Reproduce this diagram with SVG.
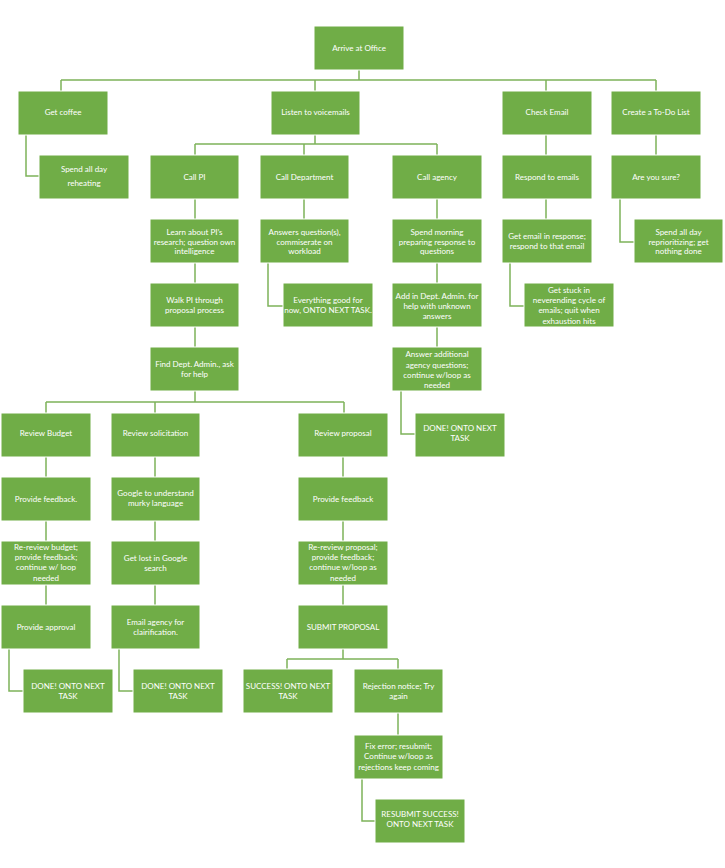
<svg xmlns="http://www.w3.org/2000/svg" width="725" height="868" viewBox="0 0 725 868">
<style>
.n rect{fill:#70AD47;stroke:#ffffff;stroke-width:1}
.n text{fill:#ffffff;font-family:Lato,"Liberation Sans",sans-serif;font-size:8px;text-anchor:middle}
.c path{fill:none;stroke:#7DB35A;stroke-width:1.5}
</style>
<rect width="725" height="868" fill="#ffffff"/>
<g class="c">
<path d="M359,70V80M61,80H656M61,80V91M315,80V91M546,80V91M656,80V91"/>
<path d="M26,134V176H39"/>
<path d="M315,134V144M195,144H437M195,144V155M304,144V155M437,144V155"/>
<path d="M546,134V155M656,134V155"/>
<path d="M620,199V242H634"/>
<path d="M195,199V219M304,199V219M437,199V219M546,199V219"/>
<path d="M268,263V306H283"/>
<path d="M510,263V306H524"/>
<path d="M195,263V283M437,263V283M195,327V347M437,327V347"/>
<path d="M401,391V434H415"/>
<path d="M195,391V402M46,402H344M46,402V413M155,402V413M344,402V413"/>
<path d="M46,457V477M46,521V541M46,585V605"/>
<path d="M155,457V477M155,521V541M155,585V605"/>
<path d="M343,457V477M343,521V541M343,585V605"/>
<path d="M9,649V691H23"/>
<path d="M119,649V691H133"/>
<path d="M343,649V659M287,659H398M287,659V669M398,659V669"/>
<path d="M398,713V735"/>
<path d="M362,779V821H375"/>
</g>
<g id="arrive" class="n"><rect x="314" y="26" width="90" height="44"/><text x="359" y="51">Arrive at Office</text></g>
<g id="coffee" class="n"><rect x="18" y="91" width="90" height="44"/><text x="63" y="115">Get coffee</text></g>
<g id="listen" class="n"><rect x="271" y="91" width="89" height="44"/><text x="315.5" y="115">Listen to voicemails</text></g>
<g id="checkemail" class="n"><rect x="502" y="91" width="90" height="44"/><text x="547" y="115">Check Email</text></g>
<g id="todo" class="n"><rect x="611" y="91" width="90" height="44"/><text x="656" y="115">Create  a To-Do List</text></g>
<g id="reheat" class="n"><rect x="39" y="155" width="90" height="44"/><text x="84" y="172">Spend all day</text><text x="84" y="186">reheating</text></g>
<g id="callpi" class="n"><rect x="150" y="155" width="89" height="44"/><text x="194.5" y="180">Call PI</text></g>
<g id="calldept" class="n"><rect x="260" y="155" width="89" height="44"/><text x="304.5" y="180">Call Department</text></g>
<g id="callagency" class="n"><rect x="392" y="155" width="90" height="44"/><text x="437" y="180">Call agency</text></g>
<g id="respond" class="n"><rect x="502" y="155" width="90" height="44"/><text x="547" y="180">Respond to emails</text></g>
<g id="sure" class="n"><rect x="611" y="155" width="90" height="44"/><text x="656" y="180">Are you sure?</text></g>
<g id="learn" class="n"><rect x="150" y="219" width="89" height="44"/><text x="194.5" y="235">Learn about PI’s</text><text x="194.5" y="245">research; question own</text><text x="194.5" y="254">intelligence</text></g>
<g id="answers" class="n"><rect x="260" y="219" width="89" height="44"/><text x="304.5" y="235">Answers question(s),</text><text x="304.5" y="245">commiserate  on</text><text x="304.5" y="254">workload</text></g>
<g id="morning" class="n"><rect x="392" y="219" width="90" height="44"/><text x="437" y="235">Spend morning</text><text x="437" y="245">preparing response to</text><text x="437" y="254">questions</text></g>
<g id="getemail" class="n"><rect x="502" y="219" width="90" height="44"/><text x="547" y="239">Get email  in response;</text><text x="547" y="249">respond to that email</text></g>
<g id="reprior" class="n"><rect x="634" y="219" width="89" height="44"/><text x="678.5" y="235">Spend all day</text><text x="678.5" y="245">reprioritizing;  get</text><text x="678.5" y="254">nothing done</text></g>
<g id="walk" class="n"><rect x="150" y="283" width="89" height="44"/><text x="194.5" y="303">Walk PI through</text><text x="194.5" y="313">proposal process</text></g>
<g id="everything" class="n"><rect x="283" y="283" width="90" height="44"/><text x="328" y="303">Everything  good for</text><text x="328" y="313">now, ONTO NEXT TASK.</text></g>
<g id="addin" class="n"><rect x="392" y="283" width="90" height="44"/><text x="437" y="299">Add in Dept. Admin.  for</text><text x="437" y="309">help with unknown</text><text x="437" y="319">answers</text></g>
<g id="stuck" class="n"><rect x="524" y="283" width="90" height="44"/><text x="569" y="293">Get stuck in</text><text x="569" y="303">neverending  cycle of</text><text x="569" y="313">emails;  quit when</text><text x="569" y="324">exhaustion hits</text></g>
<g id="find" class="n"><rect x="150" y="347" width="89" height="44"/><text x="194.5" y="367">Find Dept. Admin.,  ask</text><text x="194.5" y="377">for help</text></g>
<g id="answeradd" class="n"><rect x="392" y="347" width="90" height="44"/><text x="437" y="357">Answer  additional</text><text x="437" y="368">agency  questions;</text><text x="437" y="378">continue w/loop as</text><text x="437" y="388">needed</text></g>
<g id="doneagency" class="n"><rect x="415" y="413" width="90" height="44"/><text x="460" y="431">DONE! ONTO  NEXT</text><text x="460" y="441">TASK</text></g>
<g id="rbudget" class="n"><rect x="1" y="413" width="90" height="44"/><text x="46" y="436">Review  Budget</text></g>
<g id="rsol" class="n"><rect x="111" y="413" width="89" height="44"/><text x="155.5" y="436">Review  solicitation</text></g>
<g id="rprop" class="n"><rect x="298" y="413" width="90" height="44"/><text x="343" y="436">Review  proposal</text></g>
<g id="fb1" class="n"><rect x="1" y="477" width="90" height="44"/><text x="46" y="502">Provide  feedback.</text></g>
<g id="google" class="n"><rect x="111" y="477" width="89" height="44"/><text x="155.5" y="496">Google to understand</text><text x="155.5" y="506">murky language</text></g>
<g id="fb2" class="n"><rect x="298" y="477" width="90" height="44"/><text x="343" y="502">Provide  feedback</text></g>
<g id="rrb" class="n"><rect x="1" y="541" width="90" height="44"/><text x="46" y="550">Re-review  budget;</text><text x="46" y="560">provide feedback;</text><text x="46" y="570">continue  w/ loop</text><text x="46" y="581">needed</text></g>
<g id="lost" class="n"><rect x="111" y="541" width="89" height="44"/><text x="155.5" y="561">Get lost in Google</text><text x="155.5" y="571">search</text></g>
<g id="rrp" class="n"><rect x="298" y="541" width="90" height="44"/><text x="343" y="550">Re-review  proposal;</text><text x="343" y="560">provide feedback;</text><text x="343" y="570">continue  w/loop as</text><text x="343" y="581">needed</text></g>
<g id="approval" class="n"><rect x="1" y="605" width="90" height="44"/><text x="46" y="630">Provide approval</text></g>
<g id="emailag" class="n"><rect x="111" y="605" width="89" height="44"/><text x="155.5" y="625">Email  agency  for</text><text x="155.5" y="635">clairification.</text></g>
<g id="submit" class="n"><rect x="298" y="605" width="90" height="44"/><text x="343" y="630">SUBMIT PROPOSAL</text></g>
<g id="done1" class="n"><rect x="23" y="669" width="90" height="44"/><text x="68" y="689">DONE!  ONTO  NEXT</text><text x="68" y="699">TASK</text></g>
<g id="done2" class="n"><rect x="133" y="669" width="90" height="44"/><text x="178" y="689">DONE!  ONTO  NEXT</text><text x="178" y="699">TASK</text></g>
<g id="success" class="n"><rect x="243" y="669" width="90" height="44"/><text x="288" y="689">SUCCESS!  ONTO  NEXT</text><text x="288" y="699">TASK</text></g>
<g id="reject" class="n"><rect x="354" y="669" width="89" height="44"/><text x="398.5" y="689">Rejection  notice; Try</text><text x="398.5" y="699">again</text></g>
<g id="fix" class="n"><rect x="354" y="735" width="89" height="44"/><text x="398.5" y="749">Fix error;  resubmit;</text><text x="398.5" y="759">Continue  w/loop as</text><text x="398.5" y="770">rejections  keep coming</text></g>
<g id="resubmit" class="n"><rect x="375" y="799" width="90" height="44"/><text x="420" y="817">RESUBMIT  SUCCESS!</text><text x="420" y="827">ONTO NEXT TASK</text></g>
</svg>
